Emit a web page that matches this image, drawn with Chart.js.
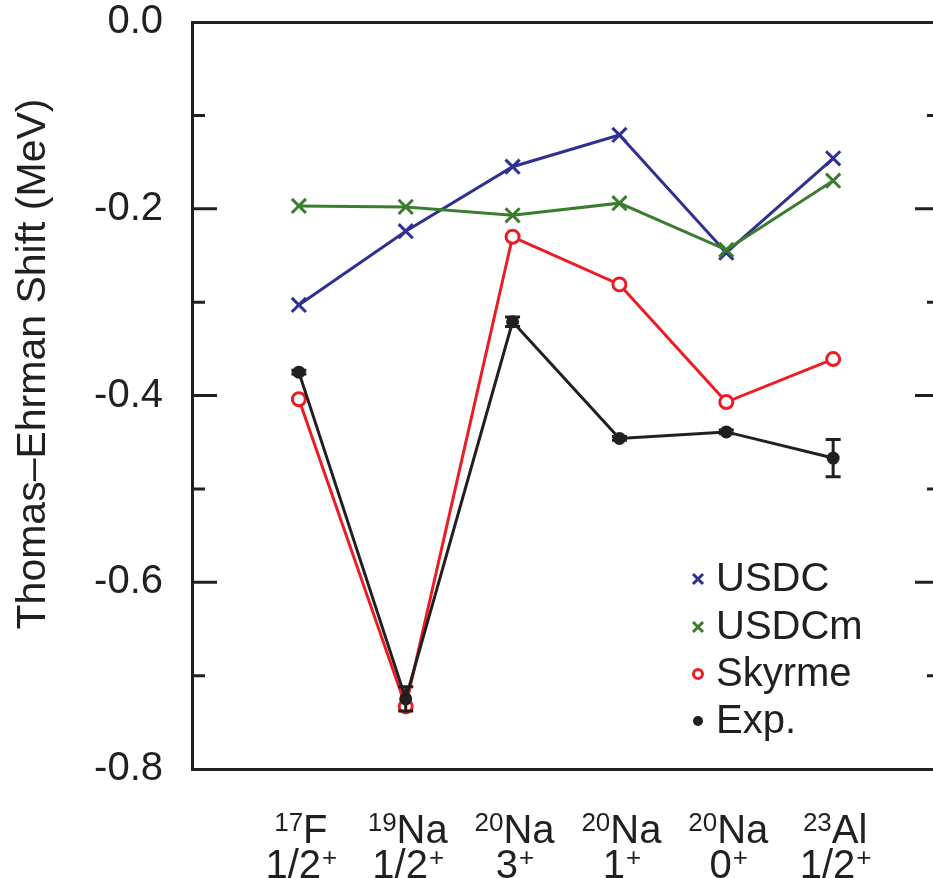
<!DOCTYPE html>
<html><head><meta charset="utf-8">
<script src="https://cdn.jsdelivr.net/npm/chart.js@4.4.0/dist/chart.umd.min.js"></script>
<style>html,body{margin:0;padding:0;overflow:hidden;background:#fff;width:933px;height:878px}canvas{display:block}</style>
</head><body><canvas id="c" width="960" height="878"></canvas>
<script>
// ---- data ----
const massNumbers = ['17', '19', '20', '20', '20', '23'];
const elements    = ['F', 'Na', 'Na', 'Na', 'Na', 'Al'];
const spins       = ['1/2', '1/2', '3', '1', '0', '1/2'];
const parities    = ['+', '+', '+', '+', '+', '+'];
const usdc   = [-0.303, -0.224, -0.155, -0.121, -0.247, -0.146];
const usdcm  = [-0.197, -0.198, -0.207, -0.194, -0.244, -0.170];
const skyrme = [-0.404, -0.733, -0.230, -0.281, -0.407, -0.361];
const expVals = [-0.375, -0.725, -0.321, -0.446, -0.439, -0.467];
const expErr  = [0.002, 0.013, 0.005, 0.002, 0.002, 0.020];
const yTickValues = [0.0, -0.1, -0.2, -0.3, -0.4, -0.5, -0.6, -0.7, -0.8];
const yLabelValues = [0.0, -0.2, -0.4, -0.6, -0.8];
const yTitle = 'Thomas\u2013Ehrman Shift (MeV)';
const seriesNames = ['USDC', 'USDCm', 'Skyrme', 'Exp.'];

const FONT = '"Liberation Sans", Arial, Helvetica, sans-serif';
const C_BLUE = '#2e3192', C_GREEN = '#3b7d2e', C_RED = '#ed1c24', C_BLACK = '#231f20';

const pts = arr => arr.map((v, i) => ({x: i, y: v}));

const decor = {
  id: 'decor',
  afterDatasetsDraw(chart) {
    const ctx = chart.ctx, y = chart.scales.y, x = chart.scales.x;
    ctx.save();
    ctx.strokeStyle = C_BLACK; ctx.lineWidth = 3;
    expVals.forEach((v, i) => {
      const px = x.getPixelForValue(i);
      const top = y.getPixelForValue(v + expErr[i]);
      const bot = y.getPixelForValue(v - expErr[i]);
      ctx.beginPath();
      ctx.moveTo(px, top); ctx.lineTo(px, bot);
      ctx.moveTo(px - 7.5, top); ctx.lineTo(px + 7.5, top);
      ctx.moveTo(px - 7.5, bot); ctx.lineTo(px + 7.5, bot);
      ctx.stroke();
    });
    ctx.restore();
  },
  afterDraw(chart) {
    const ctx = chart.ctx, y = chart.scales.y, x = chart.scales.x;
    const area = chart.chartArea;
    ctx.save();
    // inward ticks
    ctx.strokeStyle = C_BLACK; ctx.lineWidth = 3;
    yTickValues.forEach(v => {
      if (v === 0 || v === -0.8) return;
      const py = y.getPixelForValue(v);
      const major = yLabelValues.some(l => Math.abs(l - v) < 1e-9);
      const len = major ? 25 : 13;
      ctx.beginPath();
      ctx.moveTo(area.left, py); ctx.lineTo(area.left + len, py);
      ctx.moveTo(area.right, py); ctx.lineTo(area.right - len, py);
      ctx.stroke();
    });
    // x category labels with superscripts
    ctx.fillStyle = C_BLACK;
    ctx.textBaseline = 'alphabetic';
    ctx.textAlign = 'left';
    const big = '40px ' + FONT, small = '26px ' + FONT;
    massNumbers.forEach((m, i) => {
      const px = x.getPixelForValue(i) + 2;
      ctx.font = small; const w1 = ctx.measureText(m).width;
      ctx.font = big; const w2 = ctx.measureText(elements[i]).width;
      let sx = px - (w1 + w2) / 2;
      ctx.font = small; ctx.fillText(m, sx, 831);
      ctx.font = big; ctx.fillText(elements[i], sx + w1, 843);
      ctx.font = big; const w3 = ctx.measureText(spins[i]).width;
      ctx.font = small; const w4 = ctx.measureText(parities[i]).width;
      sx = px - (w3 + w4) / 2;
      ctx.font = big; ctx.fillText(spins[i], sx, 878);
      ctx.font = small; ctx.fillText(parities[i], sx + w3 + 1, 866);
    });
    // y title
    ctx.save();
    ctx.translate(34, 364);
    ctx.rotate(-Math.PI / 2);
    ctx.textAlign = 'center'; ctx.textBaseline = 'middle';
    ctx.font = '41px ' + FONT;
    ctx.fillText(yTitle, 0, 0);
    ctx.restore();
    // legend
    const ds = chart.data.datasets;
    const rows = [579, 627, 674, 721];
    ds.forEach((d, k) => {
      const ly = rows[k], lx = 698;
      ctx.lineWidth = 3;
      if (d.pointStyle === 'crossRot') {
        ctx.strokeStyle = d.borderColor;
        ctx.beginPath();
        ctx.moveTo(lx - 5, ly - 5); ctx.lineTo(lx + 5, ly + 5);
        ctx.moveTo(lx - 5, ly + 5); ctx.lineTo(lx + 5, ly - 5);
        ctx.stroke();
      } else if (d.label === 'Skyrme') {
        ctx.strokeStyle = d.borderColor; ctx.fillStyle = '#fff';
        ctx.beginPath(); ctx.arc(lx, ly, 4.5, 0, Math.PI * 2); ctx.fill(); ctx.stroke();
      } else {
        ctx.fillStyle = d.borderColor;
        ctx.beginPath(); ctx.arc(lx, ly, 5, 0, Math.PI * 2); ctx.fill();
      }
      ctx.fillStyle = C_BLACK;
      ctx.font = '40px ' + FONT;
      ctx.textAlign = 'left'; ctx.textBaseline = 'middle';
      ctx.fillText(d.label, 716, ly + 1);
    });
    ctx.restore();
  }
};

new Chart(document.getElementById('c'), {
  type: 'line',
  data: {
    datasets: [
      {label: seriesNames[0], data: pts(usdc), borderColor: C_BLUE, backgroundColor: C_BLUE, borderWidth: 3,
       pointStyle: 'crossRot', pointRadius: 10, pointBorderWidth: 3, order: 3},
      {label: seriesNames[1], data: pts(usdcm), borderColor: C_GREEN, backgroundColor: C_GREEN, borderWidth: 3,
       pointStyle: 'crossRot', pointRadius: 10, pointBorderWidth: 3, order: 2},
      {label: seriesNames[2], data: pts(skyrme), borderColor: C_RED, backgroundColor: '#fff', borderWidth: 3,
       pointStyle: 'circle', pointRadius: 6.5, pointBorderWidth: 3, order: 1},
      {label: seriesNames[3], data: pts(expVals), borderColor: C_BLACK, backgroundColor: C_BLACK, borderWidth: 3,
       pointStyle: 'circle', pointRadius: 6.5, pointBorderWidth: 0, order: 0}
    ]
  },
  options: {
    responsive: false, animation: false, devicePixelRatio: 1,
    layout: {padding: {top: 22, right: 20, left: 0, bottom: 0}},
    plugins: {legend: {display: false}, tooltip: {enabled: false}},
    elements: {line: {tension: 0}},
    scales: {
      x: {type: 'linear', position: 'bottom', min: -1, max: 6,
          grid: {display: false, drawTicks: false}, border: {display: true, color: C_BLACK, width: 3},
          ticks: {display: false},
          afterFit: s => { s.height = 109; s.paddingLeft = 0; s.paddingRight = 0; }},
      x2: {type: 'linear', position: 'top', min: -1, max: 6,
          grid: {display: false, drawTicks: false}, border: {display: true, color: C_BLACK, width: 3},
          ticks: {display: false},
          afterFit: s => { s.height = 0; s.paddingLeft = 0; s.paddingRight = 0; }},
      y: {type: 'linear', position: 'left', min: -0.8, max: 0,
          grid: {display: false, drawTicks: false}, border: {display: true, color: C_BLACK, width: 3},
          afterBuildTicks: s => { s.ticks = yTickValues.map(v => ({value: v})); },
          ticks: {color: C_BLACK, font: {family: FONT, size: 40}, padding: 29,
                  callback: v => yLabelValues.some(l => Math.abs(l - v) < 1e-9) ? Number(v).toFixed(1) : ''},
          afterFit: s => { s.width = 192; s.paddingTop = 0; s.paddingBottom = 0; }},
      y2: {type: 'linear', position: 'right', min: -0.8, max: 0,
          grid: {display: false, drawTicks: false}, border: {display: true, color: C_BLACK, width: 3},
          ticks: {display: false},
          afterFit: s => { s.width = 0; s.paddingTop = 0; s.paddingBottom = 0; }}
    }
  },
  plugins: [decor]
});
</script>
</body></html>
